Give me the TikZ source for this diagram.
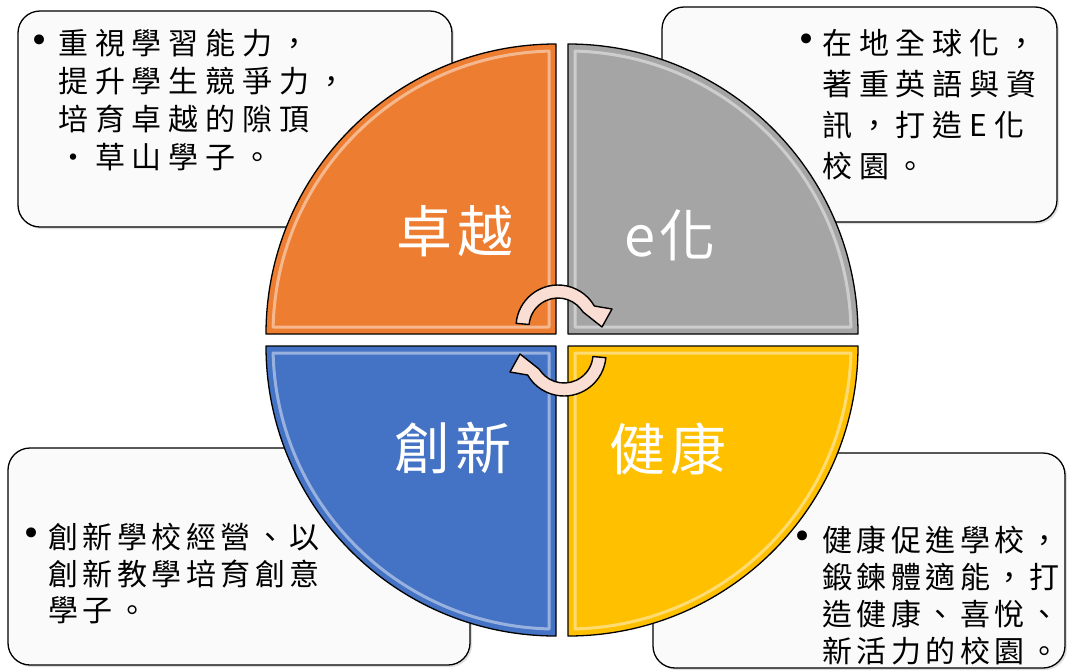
\documentclass[tikz,border=0pt]{standalone}
\usepackage{fontspec}
\usepackage{xcolor}
\usepackage{tikz}
\usetikzlibrary{shadows}

\newfontfamily\cjk{Noto Sans CJK TC}
\newfontfamily\cjkwide[LetterSpace=23]{Noto Sans CJK TC}
\newfontfamily\cjknarrow[LetterSpace=15]{Noto Sans CJK TC}
\newfontfamily\cjkbig[LetterSpace=8]{Noto Sans CJK TC}
\newfontfamily\dotfont{DejaVu Sans}

\definecolor{qorange}{HTML}{ED7D31}
\definecolor{qgray}{HTML}{A5A5A5}
\definecolor{qblue}{HTML}{4472C4}
\definecolor{qyellow}{HTML}{FFC000}
\definecolor{turnpink}{RGB}{250,222,212}

\tikzset{
        infobox/.style={draw=black,line width=1.3pt,rounded corners=22pt,fill=white!98!black,
                drop shadow={opacity=0.25,shadow xshift=2pt,shadow yshift=-2pt}},
        quarter/.style={draw=black,line width=1.3pt,line join=round},
        bevel/.style={draw=white,line width=3pt,opacity=0.45,line join=round},
        bigword/.style={text=white,inner sep=0pt,font=\cjkbig\fontsize{56}{60}\selectfont},
        turn/.style={draw=black,line width=1.4pt,fill=turnpink,line join=round},
        dot/.style={inner sep=0pt,font=\dotfont\fontsize{34}{34}\selectfont},
        notes/.style={align=left,anchor=north west,inner sep=0pt}
}

\begin{document}
\begin{tikzpicture}[x=1pt,y=-1pt]
        \useasboundingbox (0,0) rectangle (1067,670);

        % text boxes behind the circle
        \draw[infobox] (18,11) rectangle (452,227);
        \draw[infobox] (662,7) rectangle (1057,222);
        \draw[infobox] (8,448) rectangle (470,665);
        \draw[infobox] (653,453) rectangle (1065,668);

        % corners of the four quarters
        \coordinate (cA) at (556,334);
        \coordinate (cB) at (568,334);
        \coordinate (cC) at (568,346);
        \coordinate (cD) at (556,346);

        \begin{scope}[shift={(cA)}]
                \draw[quarter,fill=qorange] (0,0)--(0,-290) arc[start angle=-90,end angle=-180,radius=290]--cycle;
                \draw[bevel] (-7,-7)--(-7,-282.9) arc[start angle=-91.42,end angle=-178.58,radius=283]--cycle;
        \end{scope}
        \begin{scope}[shift={(cB)}]
                \draw[quarter,fill=qgray] (0,0)--(290,0) arc[start angle=0,end angle=-90,radius=290]--cycle;
                \draw[bevel] (7,-7)--(282.9,-7) arc[start angle=-1.42,end angle=-88.58,radius=283]--cycle;
        \end{scope}
        \begin{scope}[shift={(cC)}]
                \draw[quarter,fill=qyellow] (0,0)--(0,290) arc[start angle=90,end angle=0,radius=290]--cycle;
                \draw[bevel] (7,7)--(7,282.9) arc[start angle=88.58,end angle=1.42,radius=283]--cycle;
        \end{scope}
        \begin{scope}[shift={(cD)}]
                \draw[quarter,fill=qblue] (0,0)--(-290,0) arc[start angle=180,end angle=90,radius=290]--cycle;
                \draw[bevel] (-7,7)--(-282.9,7) arc[start angle=178.58,end angle=91.42,radius=283]--cycle;
        \end{scope}

        \node[bigword] (zhuoyue) at (455,231) {卓越};
        \node[bigword] (ehua) at (670,235) {e化};
        \node[bigword] (chuangxin) at (453,448) {創新};
        \node[bigword] (jiankang) at (668,449) {健康};

        % the two turning arrows
        \begin{scope}[shift={(558,327)},yscale=-1]
                \draw[turn] (175:42) arc[start angle=175,end angle=30,radius=42]--(54,18)--(44,0)--(25,15)--(37:29) arc[start angle=37,end angle=175,radius=29]--cycle;
        \end{scope}
        \begin{scope}[shift={(564,354)},yscale=-1,rotate=180]
                \draw[turn] (175:42) arc[start angle=175,end angle=30,radius=42]--(54,18)--(44,0)--(25,15)--(37:29) arc[start angle=37,end angle=175,radius=29]--cycle;
        \end{scope}

        % box texts
        \node[dot] (dotA) at (40,44) {•};
        \node[notes,font=\cjkwide\fontsize{30}{38}\selectfont] (txtA) at (58,29) {重視學習能力，\\提升學生競爭力，\\培育卓越的隙頂\\・草山學子。};
        \node[dot] (dotB) at (807,43) {•};
        \node[notes,font=\cjkwide\fontsize{30}{41}\selectfont] (txtB) at (822,29) {在地全球化，\\著重英語與資\\訊，打造E化\\校園。};
        \node[dot] (dotC) at (32,537) {•};
        \node[notes,font=\cjknarrow\fontsize{30}{36.5}\selectfont] (txtC) at (48,523) {創新學校經營、以\\創新教學培育創意\\學子。};
        \node[dot] (dotD) at (803,540) {•};
        \node[notes,font=\cjknarrow\fontsize{30}{37}\selectfont] (txtD) at (822,526) {健康促進學校，\\鍛鍊體適能，打\\造健康、喜悅、\\新活力的校園。};
\end{tikzpicture}
\end{document}
